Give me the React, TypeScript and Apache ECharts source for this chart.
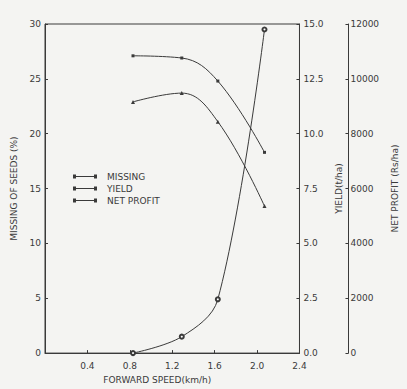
import React, { useEffect, useRef } from "react";
import * as echarts from "echarts";

const speeds = [0.83, 1.29, 1.63, 2.07];
const missing = [0, 1.5, 4.9, 29.5];
const yieldV = [13.55, 13.45, 12.4, 9.15];
const profit = [9160, 9480, 8440, 5360];
const legendNames = ["MISSING", "YIELD", "NET PROFIT"];

const INK = "#3a3a3a";
const FONT = "DejaVu Sans";

export default function App() {
  const ref = useRef<HTMLDivElement>(null);
  useEffect(() => {
    const chart = echarts.init(ref.current!, null, { renderer: "svg" });
    const txt = { color: INK, fontFamily: FONT, fontSize: 9 };
    const legendIcon =
      "path://M0,3.4h24v1.2h-24z M0,2h3v4h-3z M21,2h3v4h-3z";
    const pts = (ys: number[]) => speeds.map((x, i) => [x, ys[i]]);
    chart.setOption({
      animation: false,
      backgroundColor: "#f4f4f2",
      grid: {
        left: 45,
        top: 24,
        right: 94,
        bottom: 34,
        show: true,
        borderColor: INK,
        borderWidth: 1,
      },
      legend: {
        left: 68,
        top: 167,
        orient: "vertical",
        itemWidth: 24,
        itemHeight: 8,
        itemGap: 3,
        icon: legendIcon,
        data: legendNames,
        textStyle: { ...txt, padding: [0, 0, 0, 5] },
        itemStyle: { color: INK },
      },
      xAxis: {
        type: "value",
        min: 0,
        max: 2.4,
        interval: 0.4,
        name: "FORWARD SPEED(km/h)",
        nameLocation: "middle",
        nameGap: 20,
        nameTextStyle: { ...txt, fontSize: 9, padding: [0, 30, 0, 0] },
        axisLine: { lineStyle: { color: INK } },
        axisTick: { inside: true, length: 3, lineStyle: { color: INK } },
        axisLabel: {
          ...txt,
          margin: 8,
          showMinLabel: false,
          formatter: (v: number) => v.toFixed(1),
        },
        splitLine: { show: false },
      },
      yAxis: [
        {
          type: "value",
          min: 0,
          max: 30,
          interval: 5,
          name: "MISSING OF SEEDS (%)",
          nameLocation: "middle",
          nameGap: 25,
          nameTextStyle: txt,
          axisLine: { show: true, lineStyle: { color: INK } },
          axisTick: { show: true, inside: true, length: 3, lineStyle: { color: INK } },
          axisLabel: { ...txt, margin: 4 },
          splitLine: { show: false },
        },
        {
          type: "value",
          position: "right",
          min: 0,
          max: 15,
          interval: 2.5,
          name: "YIELD(t/ha)",
          nameLocation: "middle",
          nameGap: 26,
          nameRotate: 90,
          nameTextStyle: txt,
          axisLine: { show: true, lineStyle: { color: INK } },
          axisTick: { show: true, inside: true, length: 3, lineStyle: { color: INK } },
          axisLabel: { ...txt, margin: 4, formatter: (v: number) => v.toFixed(1) },
          splitLine: { show: false },
        },
        {
          type: "value",
          position: "right",
          offset: 49,
          min: 0,
          max: 12000,
          interval: 2000,
          name: "NET PROFIT (Rs/ha)",
          nameLocation: "middle",
          nameGap: 36,
          nameRotate: 90,
          nameTextStyle: txt,
          axisLine: { show: true, lineStyle: { color: INK } },
          axisTick: { show: true, inside: true, length: 3, lineStyle: { color: INK } },
          axisLabel: { ...txt, margin: 2, formatter: (v: number) => String(v) },
          splitLine: { show: false },
        },
      ],
      series: [
        {
          name: "MISSING",
          type: "line",
          yAxisIndex: 0,
          data: pts(missing),
          smooth: 0.35,
          symbol: "emptyCircle",
          symbolSize: 4,
          lineStyle: { color: INK, width: 1 },
          itemStyle: { color: INK, borderColor: INK },
        },
        {
          name: "YIELD",
          type: "line",
          yAxisIndex: 1,
          data: pts(yieldV),
          smooth: 0.4,
          symbol: "rect",
          symbolSize: 3,
          lineStyle: { color: INK, width: 1 },
          itemStyle: { color: INK },
        },
        {
          name: "NET PROFIT",
          type: "line",
          yAxisIndex: 2,
          data: pts(profit),
          smooth: 0.4,
          symbol: "triangle",
          symbolSize: 4,
          lineStyle: { color: INK, width: 1 },
          itemStyle: { color: INK },
        },
      ],
    });
    return () => chart.dispose();
  }, []);
  return (
    <div
      ref={ref}
      style={{ position: "fixed", left: 0, top: 0, width: 407, height: 389 }}
    />
  );
}
